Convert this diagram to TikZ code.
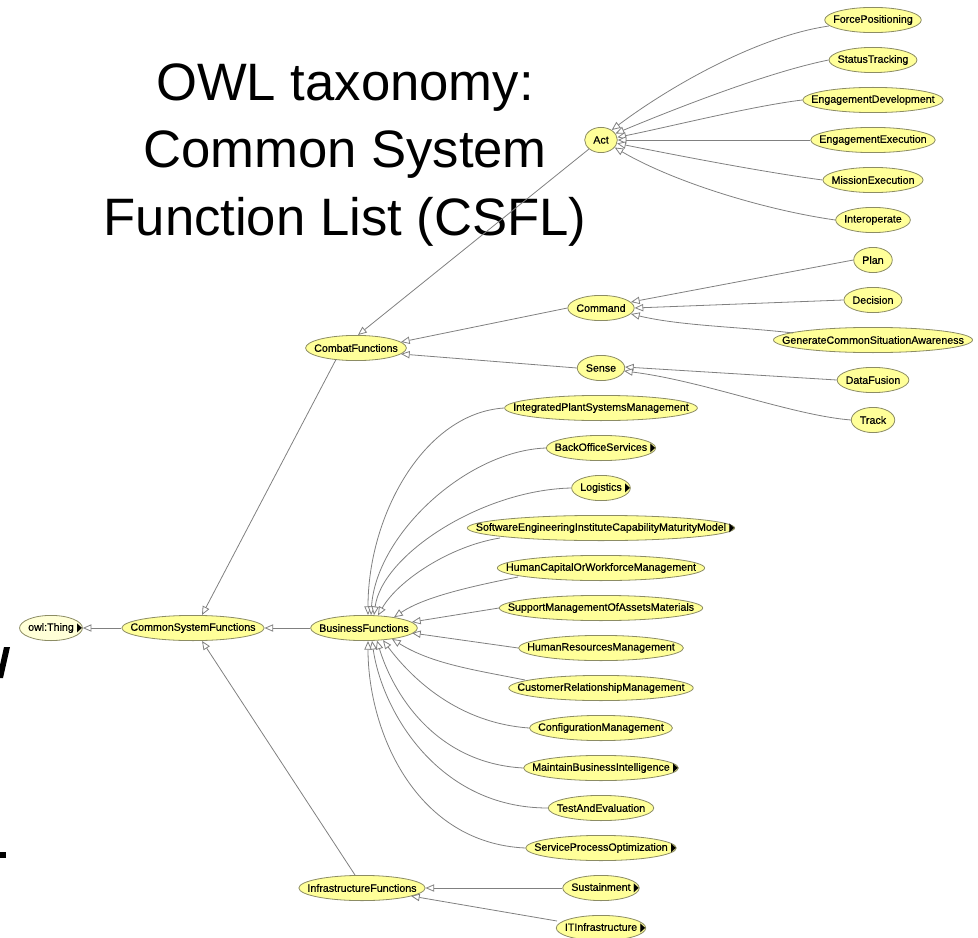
\documentclass[tikz,border=0pt]{standalone}
\usepackage{fontspec}
\setmainfont{Liberation Sans}
\newfontfamily\symfont{DejaVu Sans}
\newfontfamily\clsfont{Liberation Sans}[FakeBold=0.35]
\usepackage{graphicx}
\usetikzlibrary{arrows.meta,calc}

\definecolor{clsfill}{RGB}{255,255,153}
\definecolor{topfill}{RGB}{255,255,215}
\definecolor{clsline}{RGB}{140,140,100}
\definecolor{isaline}{RGB}{128,128,128}

% black marker after a class that has hidden subclasses
\newcommand{\more}{\rlap{\hspace{2.5pt}\raisebox{-0.4pt}{\scalebox{0.55}[1]{\symfont\fontsize{9}{9}\selectfont ▶}}}}

\tikzset{every picture/.style={line width=0.75pt}}
\tikzset{
  cls/.style={rectangle, inner xsep=6.75pt, inner ysep=0pt, minimum height=19.5pt, outer sep=0pt,
    font=\clsfont\fontsize{8}{9.6}\selectfont,
    path picture={\path[draw=clsline, fill=#1, line width=0.6pt]
      let \p1=($(path picture bounding box.north east)-(path picture bounding box.center)$) in
      (path picture bounding box.center) ellipse [x radius=\x1-0.3pt, y radius=\y1-0.3pt];}},
  cls/.default=clsfill,
  isa/.style={draw=isaline, line width=0.6pt, -{Triangle[length=6.5pt, width=5.5pt, fill=white]}},
  title/.style={anchor=base, inner sep=0pt, font=\fontsize{39.5}{47}\selectfont}
}

\begin{document}
\begin{tikzpicture}[x=0.75pt,y=0.75pt,yscale=-1,xscale=1]
\useasboundingbox (0,0) rectangle (978,938);

% Text Node
\node[title] (ttl1) at (345,101) {OWL taxonomy:};
\node[title] (ttl2) at (345,168) {Common System};
\node[title] (ttl3) at (345,235) {Function List (CSFL)};

%Shape: cut off letters at the left edge
\fill (4,647) -- (10,647) -- (3,678) -- (0,678) -- (0,665) -- cycle;
\fill (0,852) rectangle (6,858);

% root and first level
\node[cls=topfill] (owl) at (51,628) {owl:Thing\more};
\node[cls] (csf) at (193,628) {CommonSystemFunctions};
\node[cls] (cf) at (356,348) {CombatFunctions};
\node[cls] (bf) at (364,628) {BusinessFunctions};
\node[cls] (inf) at (362,888) {InfrastructureFunctions};

% combat
\node[cls] (act) at (601,140) {Act};
\node[cls] (cmd) at (601,308) {Command};
\node[cls] (sense) at (601,368) {Sense};
\node[cls] (fp) at (873,20) {ForcePositioning};
\node[cls] (st) at (873,60) {StatusTracking};
\node[cls] (edev) at (873,100) {EngagementDevelopment};
\node[cls] (eexe) at (873,140) {EngagementExecution};
\node[cls] (mexe) at (873,180) {MissionExecution};
\node[cls] (interop) at (873,220) {Interoperate};
\node[cls] (plan) at (873,260) {Plan};
\node[cls] (dec) at (873,300) {Decision};
\node[cls] (gcsa) at (873,340) {GenerateCommonSituationAwareness};
\node[cls] (dfus) at (873,380) {DataFusion};
\node[cls] (track) at (873,420) {Track};

% business
\node[cls] (ipsm) at (601,408) {IntegratedPlantSystemsManagement};
\node[cls] (bos) at (601,448) {BackOfficeServices\more};
\node[cls] (logi) at (601,488) {Logistics\more};
\node[cls] (sei) at (601,528) {SoftwareEngineeringInstituteCapabilityMaturityModel\more};
\node[cls] (hcwm) at (601,568) {HumanCapitalOrWorkforceManagement};
\node[cls] (smam) at (601,608) {SupportManagementOfAssetsMaterials};
\node[cls] (hrm) at (601,648) {HumanResourcesManagement};
\node[cls] (crm) at (601,688) {CustomerRelationshipManagement};
\node[cls] (cfgm) at (601,728) {ConfigurationManagement};
\node[cls] (mbi) at (601,768) {MaintainBusinessIntelligence\more};
\node[cls] (tae) at (601,808) {TestAndEvaluation};
\node[cls] (spo) at (601,848) {ServiceProcessOptimization\more};

% infrastructure
\node[cls] (sus) at (601,888) {Sustainment\more};
\node[cls] (iti) at (601,928) {ITInfrastructure\more};

%Straight Lines
\draw[isa] (csf.west) -- (owl.east);
\draw[isa] (bf.west) -- (csf.east);
\draw[isa] ($(cf.center)+(-20,11.5)$) -- ($(csf.north)+(9,0)$);
\draw[isa] ($(inf.north)+(-7,0)$) -- ($(csf.south)+(9,0)$);
\draw[isa] ($(act.center)+(-12,9)$) -- ($(cf.north)+(2,0)$);
\draw[isa] (cmd.west) -- ($(cf.center)+(45,-6)$);
\draw[isa] (sense.west) -- ($(cf.center)+(45,6)$);

% act fan
\draw[isa] ($(fp.center)+(-44,6)$) .. controls +(-70,10) and +(60,-45) .. ($(act.center)+(10.7,-10)$);
\draw[isa] (st.west) .. controls +(-60,12) and +(60,-25) .. ($(act.center)+(14.5,-6.5)$);
\draw[isa] (edev.west) .. controls +(-50,6) and +(50,-10) .. ($(act.center)+(16.3,-2.7)$);
\draw[isa] (eexe.west) -- (act.east);
\draw[isa] (mexe.west) .. controls +(-60,-8) and +(60,12) .. ($(act.center)+(16.1,3.4)$);
\draw[isa] (interop.west) .. controls +(-70,-10) and +(60,35) .. ($(act.center)+(13.7,7.5)$);

% command and sense
\draw[isa] (plan.west) -- ($(cmd.center)+(30,-6)$);
\draw[isa] (dec.west) -- (cmd.east);
\draw[isa] ($(gcsa.center)+(-80,-7)$) .. controls +(-50,-6) and +(50,12) .. ($(cmd.center)+(30,6)$);
\draw[isa] (dfus.west) -- ($(sense.center)+(24,-1)$);
\draw[isa] (track.west) .. controls +(-60,-5) and +(80,10) .. ($(sense.center)+(23,3)$);

% business fan
\draw[isa] (ipsm.west) .. controls +(-80,5) and +(0,-100) .. ($(bf.center)+(4,-13)$);
\draw[isa] (bos.west) .. controls +(-80,3) and +(5,-80) .. ($(bf.center)+(7,-13)$);
\draw[isa] (logi.west) .. controls +(-90,2) and +(8,-60) .. ($(bf.center)+(10,-12.9)$);
\draw[isa] ($(sei.center)+(-101,10)$) .. controls +(-50,8) and +(20,-35) .. ($(bf.center)+(14,-12.6)$);
\draw[isa] ($(hcwm.center)+(-83,9)$) .. controls +(-50,10) and +(30,-20) .. ($(bf.center)+(30,-10.8)$);
\draw[isa] (smam.west) -- ($(bf.center)+(48,-6)$);
\draw[isa] (hrm.west) -- ($(bf.center)+(48,5)$);
\draw[isa] ($(crm.center)+(-76,-8)$) .. controls +(-50,-10) and +(40,25) .. ($(bf.center)+(28,11)$);
\draw[isa] (cfgm.west) .. controls +(-70,-5) and +(30,40) .. ($(bf.center)+(19,12.2)$);
\draw[isa] (mbi.west) .. controls +(-90,-5) and +(15,50) .. ($(bf.center)+(13,12.6)$);
\draw[isa] (tae.west) .. controls +(-110,0) and +(10,70) .. ($(bf.center)+(8,12.9)$);
\draw[isa] (spo.west) .. controls +(-110,-5) and +(0,90) .. ($(bf.center)+(4,13)$);

% infrastructure
\draw[isa] (sus.west) -- (inf.east);
\draw[isa] ($(iti.center)+(-44,-7)$) -- ($(inf.center)+(49,8)$);

\end{tikzpicture}
\end{document}
